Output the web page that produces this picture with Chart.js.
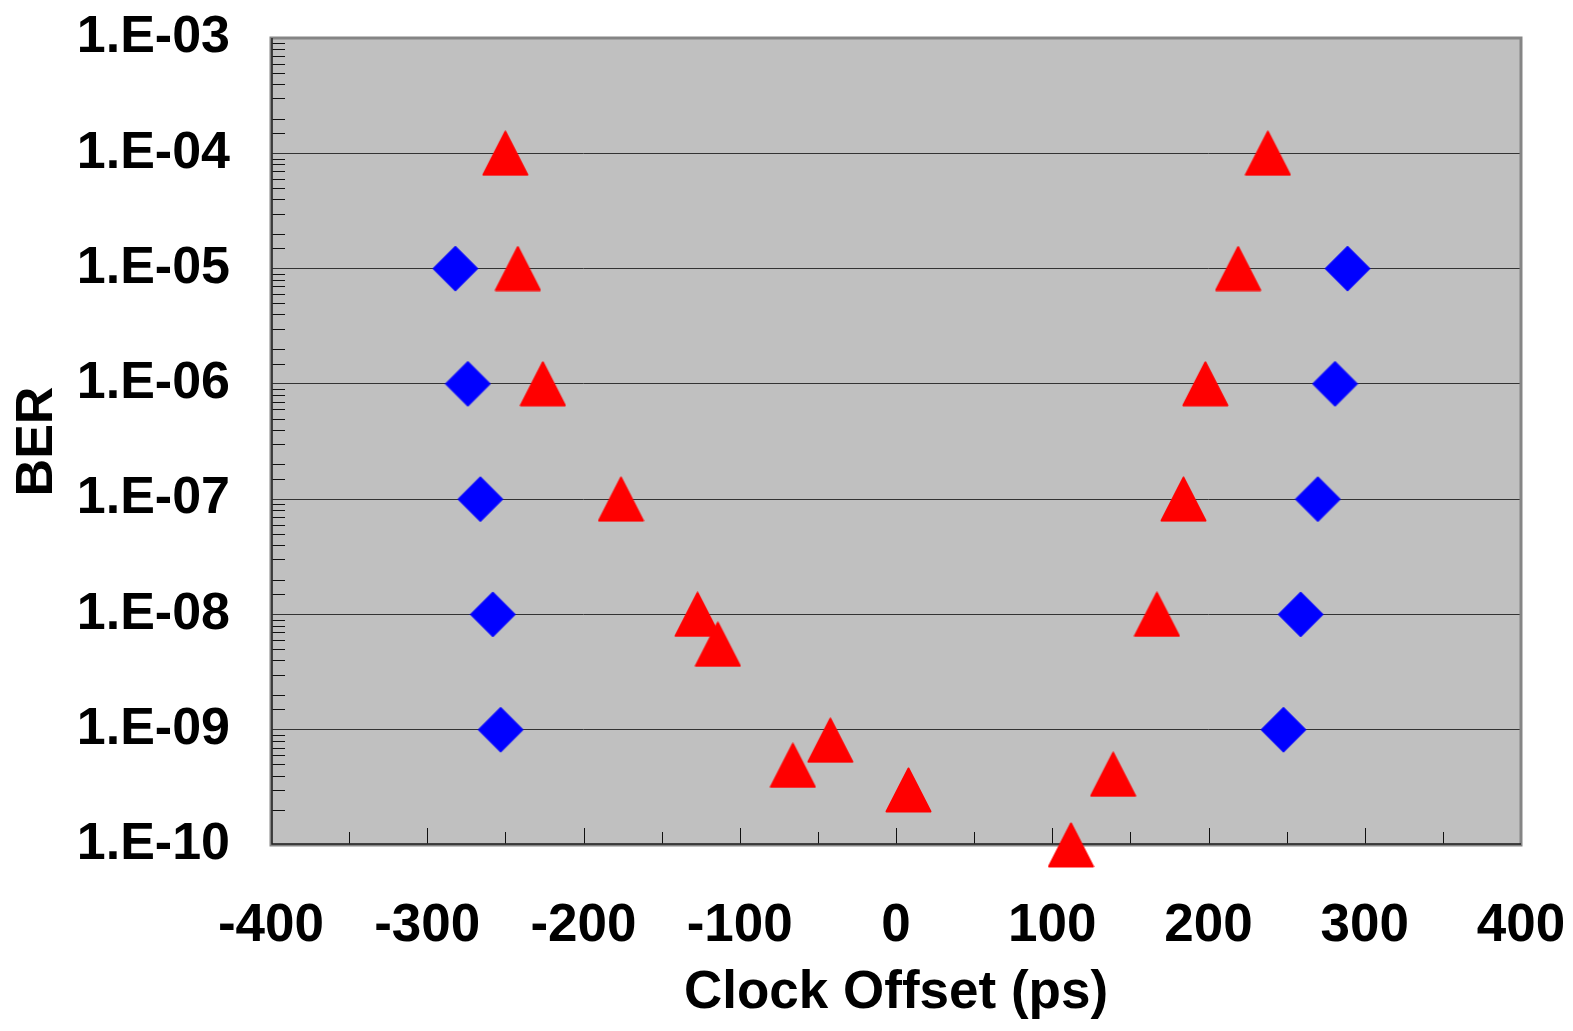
<!DOCTYPE html>
<html>
<head>
<meta charset="utf-8">
<script src="https://cdn.jsdelivr.net/npm/chart.js@4.4.1/dist/chart.umd.min.js"></script>
<style>
  body { margin: 0; background: #fff; }
  #wrap { width: 1573px; height: 1031px; }
</style>
</head>
<body>
<div id="wrap"><canvas id="myChart" width="1573" height="1031"></canvas></div>
<script>
// diamonds (blue) - clock offset in ps and BER
const blueX = [-282, -274, -266, -258, -253, 289, 281, 270, 259, 248];
const blueBER = [1e-5, 1e-6, 1e-7, 1e-8, 1e-9, 1e-5, 1e-6, 1e-7, 1e-8, 1e-9];

// triangles (red)
const redX = [-250, -242, -226, -176, -127, -114, -66, -42, 8, 112, 139, 167, 184, 198, 219, 238];
const redBER = [1e-4, 1e-5, 1e-6, 1e-7, 1e-8, 5.5e-9, 4.9e-10, 8.1e-10, 3.0e-10, 1e-10, 4.1e-10, 1e-8, 1e-7, 1e-6, 1e-5, 1e-4];

const xMin = -400, xMax = 400, xStep = 50;
const yMin = 1e-10, yMax = 1e-3;

const FONT = "'Liberation Sans', Arial, sans-serif";

// marker shapes like the Excel ones
function makeDiamond(size, color) {
	const c = document.createElement('canvas');
	c.width = size; c.height = size;
	const g = c.getContext('2d');
	const h = size / 2;
	g.fillStyle = color;
	g.strokeStyle = color;
	g.lineJoin = 'round';
	g.lineWidth = 1;
	g.beginPath();
	g.moveTo(h, 1); g.lineTo(size - 1, h); g.lineTo(h, size - 1); g.lineTo(1, h);
	g.closePath();
	g.fill(); g.stroke();
	return c;
}
function makeTriangle(w, hgt, color) {
	const c = document.createElement('canvas');
	c.width = w; c.height = hgt;
	const g = c.getContext('2d');
	g.fillStyle = color;
	g.strokeStyle = color;
	g.lineJoin = 'round';
	g.lineWidth = 2;
	g.beginPath();
	g.moveTo(w / 2, 1.5); g.lineTo(w - 1.5, hgt - 1.5); g.lineTo(1.5, hgt - 1.5);
	g.closePath();
	g.fill(); g.stroke();
	return c;
}

const toPts = (xs, ys) => xs.map((x, i) => ({ x: x, y: ys[i] }));
const isMajor = v => { const e = Math.log10(v); return Math.abs(e - Math.round(e)) < 1e-6; };

const plotFrame = {
	id: 'plotFrame',
	beforeDraw(chart) {
		const a = chart.chartArea, ctx = chart.ctx;
		ctx.save();
		ctx.fillStyle = '#c0c0c0';
		ctx.fillRect(a.left, a.top, a.right - a.left, a.bottom - a.top);
		ctx.restore();
	},
	beforeDatasetsDraw(chart) {
		const a = chart.chartArea, ctx = chart.ctx;
		const xs = chart.scales.x, ys = chart.scales.y;
		ctx.save();
		ctx.strokeStyle = '#111';
		ctx.lineWidth = 1;
		// small ticks inside the plot, left side
		ys.ticks.forEach(t => {
			if (isMajor(t.value)) return;
			const py = Math.round(ys.getPixelForValue(t.value)) + 0.5;
			ctx.beginPath();
			ctx.moveTo(a.left, py); ctx.lineTo(a.left + 14, py);
			ctx.stroke();
		});
		// ticks along the bottom
		xs.ticks.forEach(t => {
			const px = Math.round(xs.getPixelForValue(t.value)) + 0.5;
			const len = (t.value % 100 === 0) ? 17 : 13;
			ctx.beginPath();
			ctx.moveTo(px, a.bottom); ctx.lineTo(px, a.bottom - len);
			ctx.stroke();
		});
		// frame
		ctx.strokeStyle = '#858585';
		ctx.lineWidth = 3;
		ctx.strokeRect(a.left, a.top, a.right - a.left, a.bottom - a.top);
		ctx.strokeStyle = '#222';
		ctx.lineWidth = 1.5;
		ctx.beginPath();
		ctx.moveTo(a.left + 1, a.top); ctx.lineTo(a.left + 1, a.bottom - 1); ctx.lineTo(a.right, a.bottom - 1);
		ctx.stroke();
		ctx.restore();
	}
};

const ctx = document.querySelector('#myChart');
const chart = new Chart(ctx, {
	type: 'scatter',
	data: {
		datasets: [{
			label: 'diamond',
			data: toPts(blueX, blueBER),
			pointStyle: makeDiamond(47, '#0000ff'),
			backgroundColor: '#0000ff',
			borderColor: '#0000ff',
			clip: false
		}, {
			label: 'triangle',
			data: toPts(redX, redBER),
			pointStyle: makeTriangle(47, 46, '#ff0000'),
			backgroundColor: '#ff0000',
			borderColor: '#ff0000',
			clip: false
		}]
	},
	options: {
		responsive: false,
		animation: false,
		layout: { padding: { top: 38, right: 52, left: 0, bottom: 0 } },
		plugins: { legend: { display: false }, tooltip: { enabled: false } },
		scales: {
			x: {
				type: 'linear',
				min: xMin, max: xMax,
				border: { display: false },
				grid: { display: false, drawTicks: false },
				ticks: {
					stepSize: xStep,
					autoSkip: false,
					maxRotation: 0,
					padding: 50,
					color: '#000',
					font: { family: FONT, size: 53, weight: 'bold' },
					callback: v => (v % 100 === 0 ? String(v) : '')
				},
				title: {
					display: true,
					text: 'Clock Offset (ps)',
					color: '#000',
					font: { family: FONT, size: 53, weight: 'bold' },
					padding: { top: 0, bottom: 6 }
				},
				afterFit: s => { s.height = 186; s.paddingLeft = 0; s.paddingRight = 0; }
			},
			y: {
				type: 'logarithmic',
				min: yMin, max: yMax,
				border: { display: false },
				grid: {
					drawTicks: false,
					color: c => (c.tick && isMajor(c.tick.value) ? '#333' : 'rgba(0,0,0,0)'),
					lineWidth: 1
				},
				ticks: {
					autoSkip: false,
					padding: 41,
					color: '#000',
					font: { family: FONT, size: 52, weight: 'bold' },
					callback: v => {
						if (!isMajor(v)) return '';
						const e = Math.round(Math.log10(v));
						return '1.E-' + String(-e).padStart(2, '0');
					}
				},
				title: {
					display: true,
					text: 'BER',
					color: '#000',
					font: { family: FONT, size: 52, weight: 'bold' },
					padding: { top: 6, bottom: 0 }
				},
				afterFit: s => { s.width = 271; s.paddingTop = 0; s.paddingBottom = 0; }
			}
		}
	},
	plugins: [plotFrame]
});
</script>
</body>
</html>
